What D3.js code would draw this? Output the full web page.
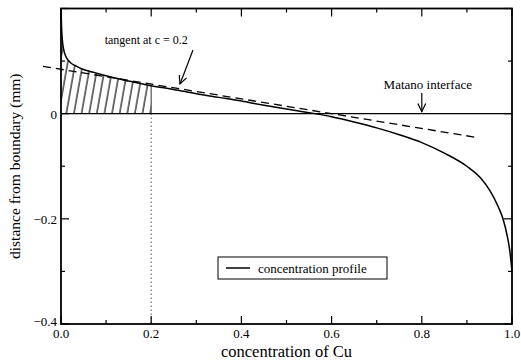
<!DOCTYPE html>
<html>
<head>
<meta charset="utf-8">
<script src="https://cdn.jsdelivr.net/npm/d3@7"></script>
<style>
  body { margin: 0; background: #fff; }
</style>
</head>
<body>
<div id="chart"></div>
<script>
// concentration profile
const conc = [0.0, 0.001, 0.003, 0.006, 0.01, 0.02, 0.035, 0.05, 0.075, 0.1, 0.15, 0.2, 0.25, 0.3, 0.35, 0.4, 0.45, 0.5, 0.55, 0.6, 0.65, 0.7, 0.75, 0.8, 0.85, 0.9, 0.93, 0.95, 0.97, 0.98, 0.99, 0.995, 1.0];
const dist = [0.2, 0.17, 0.14, 0.122, 0.11, 0.098, 0.09, 0.084, 0.078, 0.072, 0.062, 0.053, 0.046, 0.038, 0.031, 0.024, 0.016, 0.009, 0.002, -0.006, -0.016, -0.027, -0.04, -0.055, -0.075, -0.1, -0.122, -0.145, -0.178, -0.2, -0.235, -0.26, -0.3];

// tangent at c = 0.2
const tangentC = [-0.04, 0.92];
const tangentD = [0.09, -0.045];
const tangentAt = 0.2;

const xMajor = [0, 0.2, 0.4, 0.6, 0.8, 1.0];
const xMinor = [0.1, 0.3, 0.5, 0.7, 0.9];
const yMajor = [-0.4, -0.2, 0, 0.2];
const yMinor = [-0.3, -0.1, 0.1];
const yLabels = [-0.4, -0.2, 0];

const W = 521, H = 362;
const margin = { top: 8.5, right: 9, bottom: 38, left: 61 };
const width = W - margin.left - margin.right;
const height = H - margin.top - margin.bottom;
const FONT = "'Liberation Serif', 'Times New Roman', Times, 'DejaVu Serif', serif";

const svg = d3.select("#chart").append("svg")
    .attr("width", W)
    .attr("height", H)
    .attr("font-family", FONT)
    .style("font-family", FONT);

const g = svg.append("g")
    .attr("transform", `translate(${margin.left},${margin.top})`);

const x = d3.scaleLinear().domain([0, 1]).range([0, width]);
const y = d3.scaleLinear().domain([-0.4, 0.2]).range([height, 0]);

const profile = conc.map((c, i) => ({ c: c, d: dist[i] }));

// hatch pattern for the area under the curve
const defs = svg.append("defs");
const pat = defs.append("pattern")
    .attr("id", "hatch")
    .attr("patternUnits", "userSpaceOnUse")
    .attr("width", 7.5)
    .attr("height", 10)
    .attr("patternTransform", "rotate(10)");
pat.append("line")
    .attr("x1", 1).attr("y1", -1)
    .attr("x2", 1).attr("y2", 11)
    .attr("stroke", "#000")
    .attr("stroke-width", 1.1);

const hatchData = profile.filter(d => d.c <= tangentAt);
const area = d3.area()
    .x(d => x(d.c))
    .y0(y(0))
    .y1(d => y(d.d))
    .curve(d3.curveMonotoneX);
g.append("path")
    .datum(hatchData)
    .attr("fill", "url(#hatch)")
    .attr("d", area);

// line at c = 0.2
const dAt = dist[conc.indexOf(tangentAt)];
g.append("line")
    .attr("x1", x(tangentAt)).attr("x2", x(tangentAt))
    .attr("y1", y(0)).attr("y2", y(dAt))
    .attr("stroke", "#555").attr("stroke-width", 1.2);
g.append("line")
    .attr("x1", x(tangentAt)).attr("x2", x(tangentAt))
    .attr("y1", y(0)).attr("y2", y(-0.4))
    .attr("stroke", "#000").attr("stroke-width", 1)
    .attr("stroke-dasharray", "1,3");

// Matano interface (zero line)
g.append("line")
    .attr("x1", x(0)).attr("x2", x(1))
    .attr("y1", y(0)).attr("y2", y(0))
    .attr("stroke", "#000").attr("stroke-width", 1.2);

// tangent
g.append("line")
    .attr("x1", x(tangentC[0])).attr("y1", y(tangentD[0]))
    .attr("x2", x(tangentC[1])).attr("y2", y(tangentD[1]))
    .attr("stroke", "#000").attr("stroke-width", 1.3)
    .attr("stroke-dasharray", "8,5");

// profile
const line = d3.line()
    .x(d => x(d.c))
    .y(d => y(d.d))
    .curve(d3.curveMonotoneX);
g.append("path")
    .datum(profile)
    .attr("fill", "none")
    .attr("stroke", "#000")
    .attr("stroke-width", 1.5)
    .attr("d", line);

// ticks, all pointing inward, mirrored on all sides
function ticks(vals, len) {
    vals.forEach(v => {
        g.append("line").attr("x1", x(v)).attr("x2", x(v)).attr("y1", height).attr("y2", height - len)
            .attr("stroke", "#000").attr("stroke-width", 1.2);
        g.append("line").attr("x1", x(v)).attr("x2", x(v)).attr("y1", 0).attr("y2", len)
            .attr("stroke", "#000").attr("stroke-width", 1.2);
    });
}
function yticks(vals, len) {
    vals.forEach(v => {
        g.append("line").attr("x1", 0).attr("x2", len).attr("y1", y(v)).attr("y2", y(v))
            .attr("stroke", "#000").attr("stroke-width", 1.2);
        g.append("line").attr("x1", width).attr("x2", width - len).attr("y1", y(v)).attr("y2", y(v))
            .attr("stroke", "#000").attr("stroke-width", 1.2);
    });
}
ticks(xMajor, 8);
ticks(xMinor, 4);
yticks(yMajor, 8);
yticks(yMinor, 4);

// frame
g.append("rect")
    .attr("width", width).attr("height", height)
    .attr("fill", "none").attr("stroke", "#000").attr("stroke-width", 1.8);

// tick labels
g.selectAll(".xl").data(xMajor).enter().append("text")
    .attr("x", d => x(d)).attr("y", height + 14)
    .attr("text-anchor", "middle")
    .attr("font-size", 13)
    .text(d3.format(".1f"));
g.selectAll(".yl").data(yLabels).enter().append("text")
    .attr("x", -4).attr("y", d => y(d) + (d === -0.4 ? 2 : 5))
    .attr("text-anchor", "end")
    .attr("font-size", 13)
    .text(d => d === 0 ? "0" : d3.format(".1f")(d));

// axis titles
svg.append("text")
    .attr("x", margin.left + width / 2).attr("y", H - 5)
    .attr("text-anchor", "middle")
    .attr("font-size", 16.5)
    .text("concentration of Cu");
svg.append("text")
    .attr("transform", `translate(20,${margin.top + height / 2}) rotate(-90)`)
    .attr("text-anchor", "middle")
    .attr("font-size", 15.5)
    .text("distance from boundary (mm)");

// annotations
function arrow(x1, y1, x2, y2) {
    g.append("line").attr("x1", x1).attr("y1", y1).attr("x2", x2).attr("y2", y2)
        .attr("stroke", "#000").attr("stroke-width", 1.2);
    const a = Math.atan2(y2 - y1, x2 - x1);
    const L = 9, s = 0.45;
    g.append("path")
        .attr("d", `M${x2 - L * Math.cos(a - s)},${y2 - L * Math.sin(a - s)}L${x2},${y2}L${x2 - L * Math.cos(a + s)},${y2 - L * Math.sin(a + s)}`)
        .attr("fill", "none").attr("stroke", "#000").attr("stroke-width", 1.2);
}
g.append("text")
    .attr("x", x(0.2) - 5).attr("y", 44 - margin.top)
    .attr("text-anchor", "middle")
    .attr("font-size", 12)
    .text("tangent at c = 0.2");
arrow(193 - margin.left, 50 - margin.top, 180 - margin.left, 84 - margin.top);

g.append("text")
    .attr("x", x(0.8) + 6).attr("y", 89 - margin.top)
    .attr("text-anchor", "middle")
    .attr("font-size", 13)
    .text("Matano interface");
arrow(x(0.8), 93 - margin.top, x(0.8), y(0) - 2);

// legend
const lg = g.append("g").attr("transform", `translate(${218 - margin.left},${257 - margin.top})`);
lg.append("rect").attr("width", 169).attr("height", 22)
    .attr("fill", "#fff").attr("stroke", "#000").attr("stroke-width", 1);
lg.append("line").attr("x1", 8).attr("x2", 32).attr("y1", 11).attr("y2", 11)
    .attr("stroke", "#000").attr("stroke-width", 1.5);
lg.append("text").attr("x", 40).attr("y", 15.5)
    .attr("font-size", 13)
    .text("concentration profile");
</script>
</body>
</html>
